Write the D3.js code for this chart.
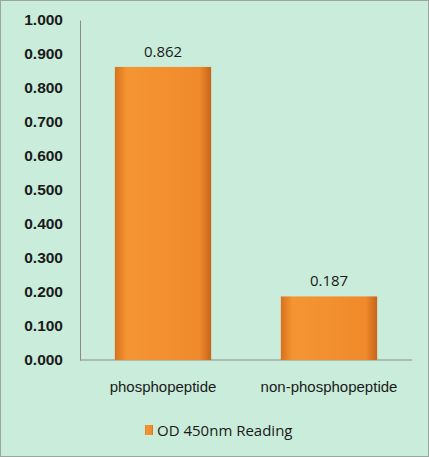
<!DOCTYPE html>
<html>
<head>
<script src="https://d3js.org/d3.v7.min.js"></script>
<style>
  body { margin: 0; }
  svg { font-family: "Open Sans", "Liberation Sans", sans-serif; }
</style>
</head>
<body>
<svg id="chart" width="429" height="457"></svg>
<script>
const categories = ["phosphopeptide", "non-phosphopeptide"];
const values = [0.862, 0.187];
const tickValues = [0, 0.1, 0.2, 0.3, 0.4, 0.5, 0.6, 0.7, 0.8, 0.9, 1.0];
const seriesName = "OD 450nm Reading";

const svg = d3.select("#chart");
svg.append("rect").attr("x", 0.5).attr("y", 0.5).attr("width", 428).attr("height", 456)
  .attr("fill", "#c9ecdb").attr("stroke", "#9aa6a0");

const defs = svg.append("defs");
const g = defs.append("linearGradient").attr("id", "barg").attr("x1", 0).attr("y1", 0).attr("x2", 1).attr("y2", 0);
g.append("stop").attr("offset", "0").attr("stop-color", "#d9701e");
g.append("stop").attr("offset", "0.12").attr("stop-color", "#f59532");
g.append("stop").attr("offset", "0.88").attr("stop-color", "#f08a2c");
g.append("stop").attr("offset", "1").attr("stop-color", "#c8641a");

const x = d3.scaleBand().domain(categories).range([80, 412]).paddingInner(0.42).paddingOuter(0.21);
const y = d3.scaleLinear().domain([0, 1]).range([360, 20]);

const yAxis = svg.append("g").attr("transform", "translate(80,0)")
  .call(d3.axisLeft(y).tickValues(tickValues).tickFormat(d3.format(".3f")).tickSize(0).tickPadding(17));
yAxis.select(".domain").attr("stroke", "#8a8a8a");
yAxis.selectAll("text").attr("font-size", 15.5).attr("font-weight", 600).attr("fill", "#1a1a1a");

const xAxis = svg.append("g").attr("transform", "translate(0,360)")
  .call(d3.axisBottom(x).tickSize(0).tickPadding(21));
xAxis.select(".domain").attr("stroke", "#8a8a8a").attr("d", "M80,0H412");
xAxis.selectAll("text").attr("font-size", 15).attr("fill", "#1a1a1a");

svg.selectAll(".bar").data(values).join("rect")
  .attr("x", (d, i) => x(categories[i]))
  .attr("y", d => y(d))
  .attr("width", x.bandwidth())
  .attr("height", d => y(0) - y(d))
  .attr("fill", "url(#barg)");

svg.selectAll(".lbl").data(values).join("text")
  .attr("x", (d, i) => x(categories[i]) + x.bandwidth() / 2)
  .attr("y", d => y(d) - 10)
  .attr("text-anchor", "middle").attr("font-size", 15).attr("fill", "#1a1a1a")
  .text(d => d3.format(".3f")(d));

svg.append("rect").attr("x", 145).attr("y", 425).attr("width", 8).attr("height", 10).attr("fill", "url(#barg)");
svg.append("text").attr("x", 157).attr("y", 436).attr("font-size", 15).attr("fill", "#1a1a1a").text(seriesName);
</script>
</body>
</html>
